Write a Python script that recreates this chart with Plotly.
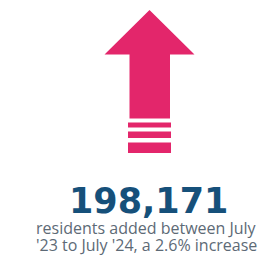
import plotly.graph_objects as go

# Data
residents_added = [198171]
pct_increase = [2.6]
period_start = ["July '23"]
period_end = ["July '24"]

PINK = "#e3266b"
NAVY = "#16507a"
GREY = "#5d6a76"

fig = go.Figure()

# Arrow pictogram (pixel-like coordinates)
ax = [149.5, 194.5, 170, 170, 129.5, 129.5, 104.5, 149.5]
ay = [10, 54.5, 54.5, 118.5, 118.5, 54.5, 54.5, 10]
fig.add_trace(go.Scatter(x=ax, y=ay, fill="toself", fillcolor=PINK,
                         line=dict(width=0), mode="lines", hoverinfo="skip"))
for y0, y1 in [(122.5, 127.5), (131.5, 138), (142.5, 153)]:
    fig.add_shape(type="rect", x0=128, x1=171, y0=y0, y1=y1,
                  fillcolor=PINK, line=dict(width=0))

num_text = f"{residents_added[0]:,}"
fig.add_annotation(x=148.5, y=201, text=f"<b>{num_text}</b>", showarrow=False,
                   font=dict(family="DejaVu Sans", size=35, color=NAVY),
                   xanchor="center", yanchor="middle")
fig.add_annotation(x=146.5, y=227.5,
                   text=f"residents added between {period_start[0].split()[0]}",
                   showarrow=False, font=dict(family="Open Sans", size=16, color=GREY),
                   xanchor="center", yanchor="middle")
fig.add_annotation(x=146.5, y=245,
                   text=f"{period_start[0].split()[1]} to {period_end[0]}, a {pct_increase[0]}% increase",
                   showarrow=False, font=dict(family="Open Sans", size=16, color=GREY),
                   xanchor="center", yanchor="middle")

fig.update_layout(
    width=280, height=257, margin=dict(l=0, r=0, t=0, b=0),
    paper_bgcolor="white", plot_bgcolor="white", showlegend=False,
    xaxis=dict(range=[0, 280], visible=False, fixedrange=True),
    yaxis=dict(range=[257, 0], visible=False, fixedrange=True),
)
fig.write_html("out.html", config={"displayModeBar": False},
               post_script="document.body.style.margin='0';document.body.style.overflow='hidden';")
